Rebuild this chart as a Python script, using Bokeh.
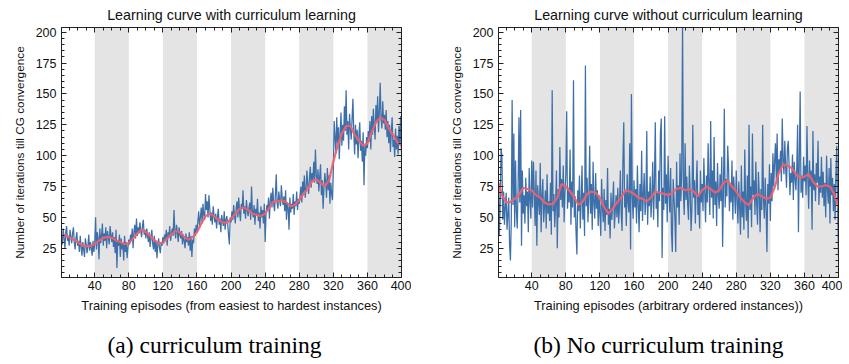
import numpy as np
from bokeh.plotting import figure
from bokeh.layouts import row
from bokeh.models import (Range1d, FixedTicker, LinearAxis, BoxAnnotation, Title,
                          CustomLabelingPolicy)
from bokeh.embed import file_html
from bokeh.resources import INLINE

# ---------------- data ----------------
episodes = list(range(1, 401))
smooth_x = [1] + list(range(5, 401, 5))

band_starts = [40, 120, 200, 280, 360]
band_ends = [80, 160, 240, 320, 400]

x_ticks = [40, 80, 120, 160, 200, 240, 280, 320, 360, 400]
y_ticks = [25, 50, 75, 100, 125, 150, 175, 200]

curriculum_raw = [
    36, 28, 41, 33, 25, 38, 43, 31, 35, 27, 40, 34, 29, 37, 42, 30, 24, 33, 38, 27,
    31, 22, 35, 26, 19, 30, 24, 18, 33, 28, 21, 27, 36, 23, 30, 25, 19, 31, 22, 29,
    50, 24, 38, 33, 16, 41, 29, 35, 45, 27, 37, 31, 42, 25, 39, 34, 28, 43, 36, 30,
    38, 26, 34, 21, 40, 9, 31, 27, 36, 18, 33, 24, 29, 15, 35, 22, 30, 17, 26, 32,
    28, 36, 31, 41, 25, 38, 44, 33, 49, 35, 42, 37, 46, 39, 34, 43, 48, 36, 40, 33,
    41, 35, 30, 38, 26, 33, 40, 29, 24, 35, 22, 31, 17, 28, 33, 25, 21, 30, 27, 34,
    29, 36, 32, 40, 27, 38, 34, 43, 31, 37, 41, 35, 56, 39, 33, 44, 38, 30, 42, 36,
    33, 39, 28, 36, 31, 25, 37, 30, 34, 27, 38, 23, 35, 18, 32, 29, 41, 35, 44, 38,
    47, 55, 42, 50, 58, 45, 61, 52, 48, 69, 56, 63, 50, 68, 57, 47, 54, 44, 59, 51,
    46, 53, 41, 50, 57, 44, 49, 38, 52, 47, 43, 55, 40, 48, 51, 45, 36, 28, 50, 46,
    55, 48, 60, 52, 45, 58, 63, 50, 66, 54, 47, 61, 57, 72, 53, 59, 49, 64, 56, 51,
    58, 62, 48, 75, 55, 50, 60, 44, 57, 52, 65, 47, 54, 41, 59, 50, 56, 45, 61, 30,
    52, 60, 56, 66, 49, 63, 70, 58, 74, 61, 55, 68, 85, 62, 57, 71, 64, 59, 76, 66,
    60, 67, 55, 72, 48, 62, 58, 40, 66, 54, 61, 57, 69, 52, 63, 59, 71, 56, 65, 61,
    68, 75, 62, 79, 70, 84, 66, 73, 88, 76, 69, 82, 91, 74, 86, 80, 95, 78, 105, 84,
    77, 89, 71, 83, 93, 68, 80, 57, 74, 86, 79, 66, 90, 72, 84, 61, 78, 69, 64, 88,
    128, 115, 102, 131, 110, 123, 97, 118, 135, 108, 125, 112, 140, 120, 153, 117, 128, 105, 134, 122,
    113, 130, 146, 119, 101, 125, 109, 121, 98, 116, 127, 104, 112, 95, 119, 76, 108, 100, 115, 106,
    120, 111, 128, 105, 132, 117, 138, 124, 113, 141, 127, 148, 119, 135, 159, 130, 122, 144, 126, 133,
    121, 137, 115, 128, 110, 125, 103, 118, 131, 107, 113, 99, 122, 105, 116, 101, 124, 109, 132, 103,
]

curriculum_smooth = [
    35, 35.5, 34, 32, 30, 27.5, 26.5, 27, 28.5, 31, 33.5, 34, 33.5, 31.5, 30, 28.5, 29,
    33, 37, 40, 38, 35, 31.5, 29, 29.5, 33, 36.5, 39, 38, 34, 32, 34, 38,
    45, 51, 53, 51, 48, 46, 45.5, 49, 53, 57, 58, 56, 53, 52, 51, 53,
    58, 63, 63, 64, 62, 59, 60, 64, 69, 73, 79, 81, 78, 75, 80, 95,
    108, 118, 124, 124, 117, 112, 108, 110, 119, 127, 131, 129, 122, 117, 111, 108,
]

nocurriculum_raw = [
    78, 35, 62, 106, 100, 48, 71, 44, 58, 70, 40, 52, 66, 28, 15, 47, 145, 60, 118, 42,
    96, 55, 41, 74, 131, 62, 137, 27, 88, 53, 68, 45, 82, 59, 71, 38, 90, 64, 49, 96,
    58, 95, 70, 43, 88, 27, 76, 62, 52, 94, 38, 67, 81, 46, 59, 72, 41, 85, 53, 63,
    47, 78, 36, 153, 55, 69, 42, 61, 88, 25, 73, 50, 107, 64, 81, 58, 92, 46, 70, 85,
    136, 57, 74, 62, 105, 44, 79, 58, 161, 50, 67, 38, 20, 72, 55, 84, 41, 63, 92, 48,
    70, 35, 173, 59, 82, 46, 66, 108, 53, 77, 40, 95, 61, 49, 86, 57, 72, 43, 68, 54,
    35, 81, 58, 46, 73, 39, 64, 52, 90, 44, 57, 33, 70, 48, 62, 79, 41, 55, 68, 50,
    74, 45, 60, 88, 52, 39, 96, 127, 58, 71, 43, 85, 62, 54, 110, 24, 150, 67, 49, 80,
    58, 73, 45, 92, 61, 38, 77, 55, 104, 47, 68, 86, 52, 63, 120, 44, 71, 59, 83, 50,
    66, 95, 48, 78, 127, 57, 70, 42, 88, 63, 118, 130, 17, 74, 56, 132, 61, 85, 46, 100,
    72, 54, 90, 38, 22, 81, 66, 49, 22, 95, 58, 76, 44, 102, 63, 87, 210, 70, 52, 110,
    64, 83, 60, 48, 92, 71, 39, 57, 125, 66, 80, 45, 74, 96, 52, 68, 41, 88, 62, 77,
    55, 98, 70, 46, 84, 62, 110, 75, 52, 128, 66, 88, 49, 115, 60, 79, 43, 94, 68, 57,
    85, 63, 99, 26, 73, 138, 58, 81, 67, 108, 90, 55, 77, 62, 96, 48, 83, 70, 53, 88,
    64, 45, 79, 58, 36, 92, 50, 71, 40, 105, 62, 47, 84, 33, 125, 56, 75, 42, 118, 68,
    80, 52, 95, 61, 44, 87, 70, 38, 73, 56, 125, 64, 49, 82, 58, 22, 77, 61, 93, 47,
    86, 63, 102, 75, 95, 110, 80, 118, 72, 97, 88, 104, 79, 130, 96, 85, 112, 90, 74, 105,
    112, 93, 68, 86, 78, 101, 64, 95, 82, 72, 89, 125, 38, 97, 152, 70, 84, 66, 99, 79,
    92, 68, 124, 81, 57, 96, 75, 88, 40, 120, 72, 85, 63, 94, 78, 112, 60, 83, 70, 99,
    66, 87, 59, 78, 50, 100, 73, 61, 90, 45, 98, 68, 82, 55, 77, 48, 86, 108, 60, 18,
]

nocurriculum_smooth = [
    78, 68, 62, 62.5, 65, 68, 74, 73, 72, 68, 66, 62, 60.5, 61, 66, 77, 75,
    71, 66, 60, 63, 69, 71, 70, 66, 58, 53, 57, 62, 66, 72, 71, 69,
    66, 65, 63, 66, 71, 70, 69, 68, 70, 73, 74, 72, 73, 71, 67, 72,
    75, 73, 70, 72, 78, 80, 75, 71, 66, 62, 60, 66, 69, 67, 65, 66,
    74, 86, 93, 92, 90, 85, 82, 83, 85, 79, 75, 75, 76, 75, 69, 58,
]

titles = ["Learning curve with curriculum learning",
          "Learning curve without curriculum learning"]
x_labels = ["Training episodes (from easiest to hardest instances)",
            "Training episodes (arbitrary ordered instances))"]
y_label = "Number of iterations till CG convergence"
captions = ["(a) curriculum training", "(b) No curriculum training"]

BLUE = "#3d6fa9"
RED = "#f0606e"
BAND = "#e4e4e4"
SANS = "Liberation Sans"


def style_axis(ax, ticks, minor, show_labels=True):
    ax.ticker = FixedTicker(ticks=ticks, minor_ticks=minor)
    ax.major_tick_in = 5
    ax.major_tick_out = 0
    ax.minor_tick_in = 3
    ax.minor_tick_out = 0
    ax.axis_line_color = "#222222"
    ax.major_tick_line_color = "#222222"
    ax.minor_tick_line_color = "#222222"
    ax.major_label_text_font = SANS
    ax.major_label_text_font_size = "12.5px"
    ax.major_label_text_color = "#111111"
    ax.axis_label_text_font = SANS
    ax.axis_label_text_font_style = "normal"
    ax.axis_label_text_color = "#111111"
    if not show_labels:
        ax.major_label_policy = CustomLabelingPolicy(
            code="return new indices.constructor(indices.size, 0);")
        ax.major_label_text_font_size = "0px"
        ax.major_label_standoff = 0


def make_panel(idx, raw, smooth, border_left, border_right, cap_offset):
    p = figure(frame_width=340, frame_height=250,
               x_range=Range1d(1, 400), y_range=Range1d(1.3, 203.8),
               output_backend="svg", toolbar_location=None,
               min_border_left=border_left, min_border_right=border_right,
               min_border_top=27, min_border_bottom=0)
    p.title.text = titles[idx]
    p.title.align = "center"
    p.title.vertical_align = "top"
    p.title.text_font = SANS
    p.title.text_font_size = "14.3px"
    p.title.text_font_style = "normal"
    p.title.text_color = "#111111"
    p.title.standoff = 6
    p.xgrid.visible = False
    p.ygrid.visible = False
    p.outline_line_color = "#222222"
    p.background_fill_color = "white"
    p.border_fill_color = "white"

    for s, e in zip(band_starts, band_ends):
        p.add_layout(BoxAnnotation(left=s, right=e, fill_color=BAND, fill_alpha=1.0,
                                   line_alpha=0, level="underlay"))

    p.line(episodes, raw, line_color=BLUE, line_width=1.25)
    p.line(smooth_x, smooth, line_color=RED, line_width=2.2, line_alpha=0.95)

    xminor = list(range(10, 401, 10))
    yminor = list(range(5, 201, 5))
    style_axis(p.xaxis[0], x_ticks, xminor)
    style_axis(p.yaxis[0], y_ticks, yminor)
    p.xaxis[0].axis_label = x_labels[idx]
    p.yaxis[0].axis_label = y_label
    p.xaxis[0].axis_label_text_font_size = "12.8px"
    p.yaxis[0].axis_label_text_font_size = "11.8px"
    p.xaxis[0].major_label_standoff = 3
    p.yaxis[0].major_label_standoff = 5
    p.xaxis[0].axis_label_standoff = 5
    p.yaxis[0].axis_label_standoff = 6

    top = LinearAxis()
    style_axis(top, x_ticks, xminor, show_labels=False)
    p.add_layout(top, "above")
    right = LinearAxis()
    style_axis(right, y_ticks, yminor, show_labels=False)
    p.add_layout(right, "right")

    cap = Title(text=captions[idx], align="left", text_font="Liberation Serif",
                text_font_size="23.5px", text_font_style="normal", text_color="#000000",
                standoff=28, offset=cap_offset)
    p.add_layout(cap, "below")
    return p


p1 = make_panel(0, curriculum_raw, curriculum_smooth, 61, 10, 46)
p2 = make_panel(1, nocurriculum_raw, nocurriculum_smooth, 87, 4, 35)

layout = row(p1, p2)
open("out.html", "w").write(file_html(layout, INLINE))
